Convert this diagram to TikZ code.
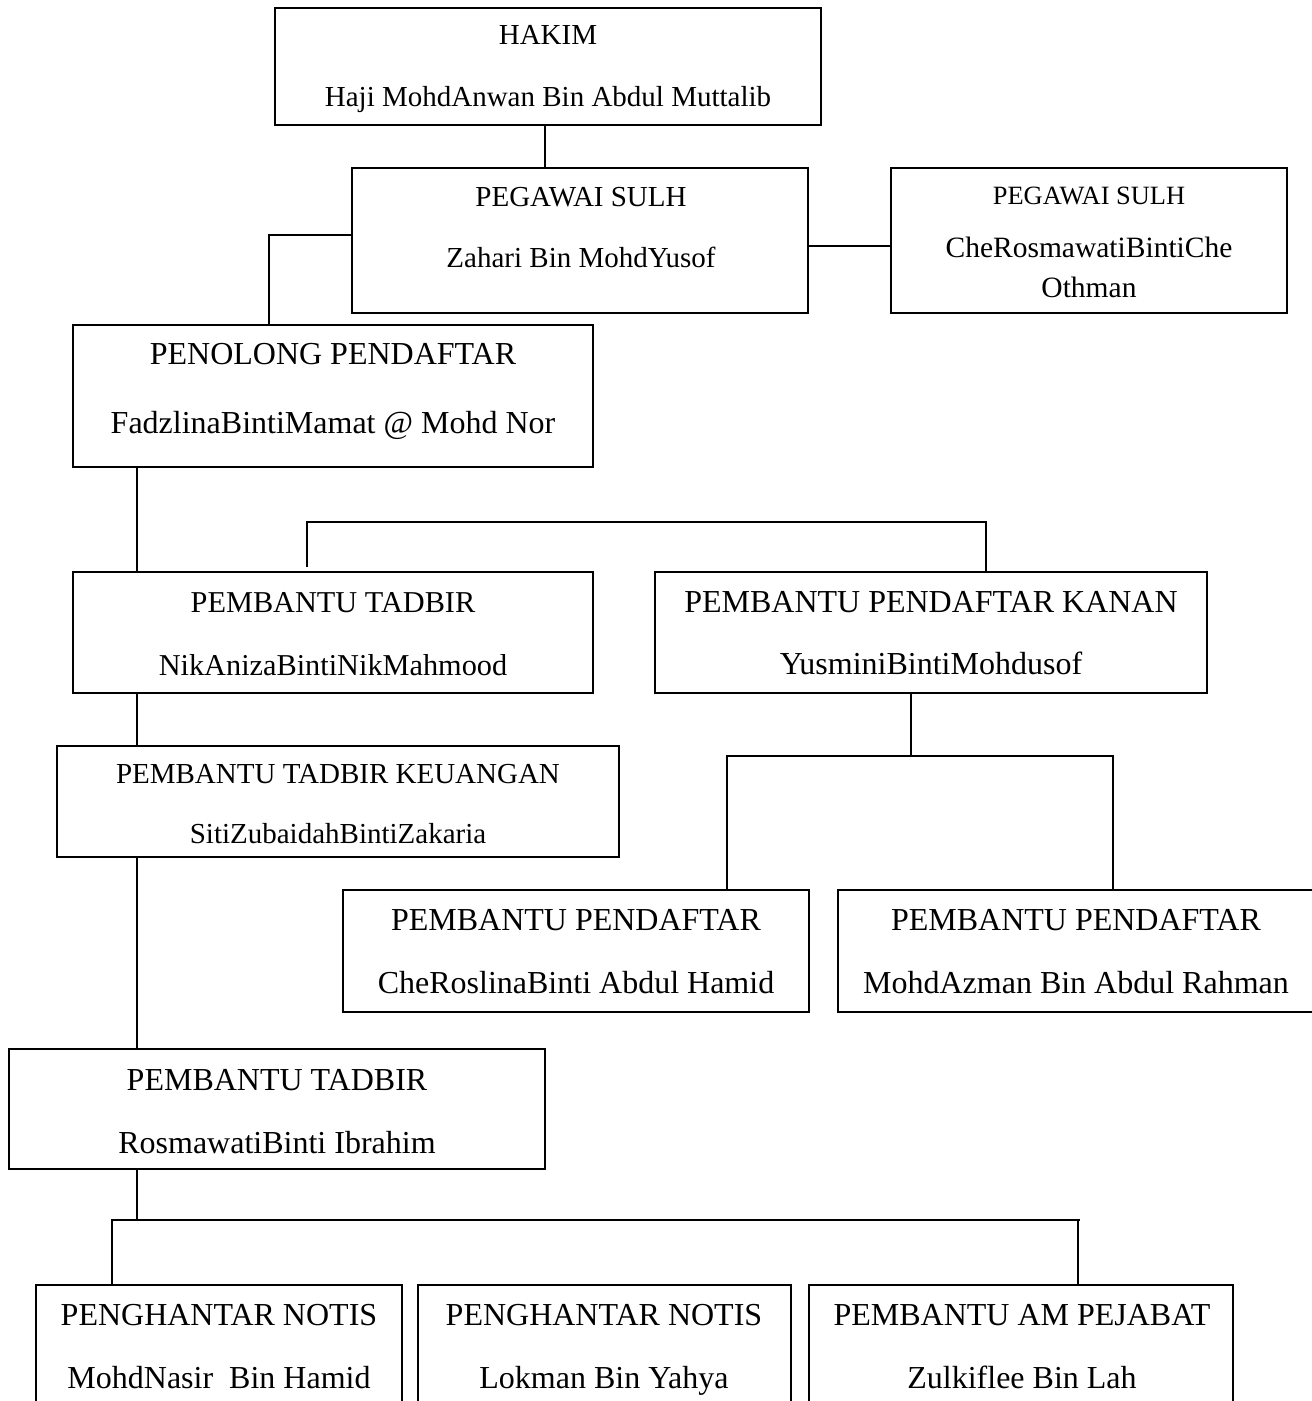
\documentclass[tikz,border=0pt]{standalone}
\usepackage{fontspec}
\setmainfont{Liberation Serif}
\usetikzlibrary{fit}
\begin{document}
\begin{tikzpicture}[x=1pt,y=-1pt,
  orgbox/.style={draw, line width=2pt, inner sep=0pt},
  conn/.style={line width=1.6pt},
  t/.style={anchor=base, inner sep=0pt},
  fa/.style={font=\fontsize{29}{35}\selectfont},
  fb/.style={font=\fontsize{30.3}{36}\selectfont},
  fc/.style={font=\fontsize{32}{38}\selectfont},
  fd/.style={font=\fontsize{26.4}{32}\selectfont},
  fe/.style={font=\fontsize{29.5}{35}\selectfont}]
\clip (0,0) rectangle (1312,1401);
\fill[white] (0,0) rectangle (1312,1401);
% boxes
\node[orgbox, fit={(275,8) (821,125)}] (hakim) {};
\node[orgbox, fit={(352,168) (808,313)}] (sulhA) {};
\node[orgbox, fit={(891,168) (1287,313)}] (sulhB) {};
\node[orgbox, fit={(73,325) (593,467)}] (penolong) {};
\node[orgbox, fit={(73,572) (593,693)}] (ptA) {};
\node[orgbox, fit={(655,572) (1207,693)}] (ppk) {};
\node[orgbox, fit={(57,746) (619,857)}] (ptk) {};
\node[orgbox, fit={(343,890) (809,1012)}] (ppA) {};
\node[orgbox, fit={(838,890) (1330,1012)}] (ppB) {};
\node[orgbox, fit={(9,1049) (545,1169)}] (ptB) {};
\node[orgbox, fit={(36,1285) (402,1430)}] (pnA) {};
\node[orgbox, fit={(418,1285) (791,1430)}] (pnB) {};
\node[orgbox, fit={(809,1285) (1233,1430)}] (pam) {};
% texts
\node[t,fa] (hakimT) at (548,44) {HAKIM};
\node[t,fa] (hakimN) at (548,106) {Haji MohdAnwan Bin Abdul Muttalib};
\node[t,fa] (sulhAT) at (581,206) {PEGAWAI SULH};
\node[t,fa] (sulhAN) at (581,267) {Zahari Bin MohdYusof};
\node[t,fd] (sulhBT) at (1089,204) {PEGAWAI SULH};
\node[t,fe] (sulhBN) at (1089,257) {CheRosmawatiBintiChe};
\node[t,fe] (sulhBN2) at (1089,297) {Othman};
\node[t,fc] (penolongT) at (333,364) {PENOLONG PENDAFTAR};
\node[t,fc] (penolongN) at (333,433) {FadzlinaBintiMamat @ Mohd Nor};
\node[t,fb] (ptAT) at (333,612) {PEMBANTU TADBIR};
\node[t,fb] (ptAN) at (333,675) {NikAnizaBintiNikMahmood};
\node[t,fc] (ppkT) at (931,612) {PEMBANTU PENDAFTAR KANAN};
\node[t,fc] (ppkN) at (931,674) {YusminiBintiMohdusof};
\node[t,fa] (ptkT) at (338,783) {PEMBANTU TADBIR KEUANGAN};
\node[t,fa] (ptkN) at (338,843) {SitiZubaidahBintiZakaria};
\node[t,fc] (ppAT) at (576,930) {PEMBANTU PENDAFTAR};
\node[t,fc] (ppAN) at (576,993) {CheRoslinaBinti Abdul Hamid};
\node[t,fc] (ppBT) at (1076,930) {PEMBANTU PENDAFTAR};
\node[t,fc] (ppBN) at (1076,993) {MohdAzman Bin Abdul Rahman};
\node[t,fc] (ptBT) at (277,1090) {PEMBANTU TADBIR};
\node[t,fc] (ptBN) at (277,1153) {RosmawatiBinti Ibrahim};
\node[t,fc] (pnAT) at (219,1325) {PENGHANTAR NOTIS};
\node[t,fc] (pnAN) at (219,1388) {MohdNasir\ \ Bin Hamid};
\node[t,fc] (pnBT) at (604,1325) {PENGHANTAR NOTIS};
\node[t,fc] (pnBN) at (604,1388) {Lokman Bin Yahya};
\node[t,fc] (pamT) at (1022,1325) {PEMBANTU AM PEJABAT};
\node[t,fc] (pamN) at (1022,1388) {Zulkiflee Bin Lah};
% junction coordinates
\coordinate (brA) at (307,567);
\coordinate (jA) at (307,522);
\coordinate (jB) at (911,756);
\coordinate (jC) at (137,1220);
% connectors
\draw[conn] (hakim.south -| 545,0) -- (sulhA.north -| 545,0);
\draw[conn] (sulhA.east |- 0,246) -- (sulhB.west |- 0,246);
\draw[conn] (sulhA.west |- 0,235) -| (penolong.north -| 269,0);
\draw[conn] (penolong.south -| 137,0) -- (ptA.north -| 137,0);
\draw[conn] (brA) -- (jA) -| (ppk.north -| 986,0);
\draw[conn] (ppk.south -| jB) -- (jB);
\draw[conn] (ppA.north -| 727,0) |- (jB) -| (ppB.north -| 1113,0);
\draw[conn] (ptA.south -| 137,0) -- (ptk.north -| 137,0);
\draw[conn] (ptk.south -| 137,0) -- (ptB.north -| 137,0);
\draw[conn] (ptB.south -| jC) -- (jC);
\draw[conn] (pnA.north -| 112,0) |- (jC) -- (1080,1220);
\draw[conn] (pam.north -| 1078,0) -- (1078,1220);
\end{tikzpicture}
\end{document}
